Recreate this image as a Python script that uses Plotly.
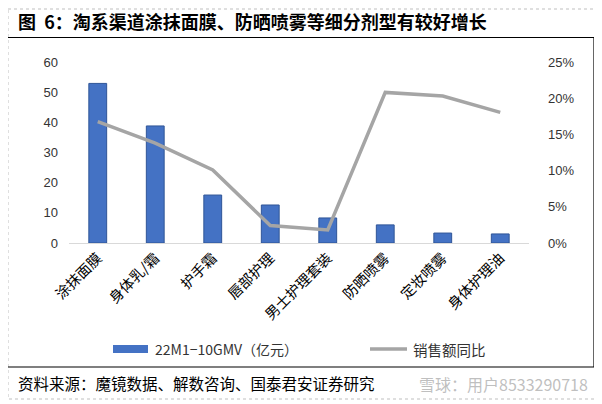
import plotly.graph_objects as go

categories = ["涂抹面膜", "身体乳/霜", "护手霜", "唇部护理", "男士护理套装", "防晒喷雾", "定妆喷雾", "身体护理油"]
gmv = [52.9, 38.8, 15.9, 12.6, 8.3, 6.0, 3.3, 3.0]
yoy = [0.1675, 0.138, 0.101, 0.024, 0.018, 0.208, 0.203, 0.1805]
left_ticks = [0, 10, 20, 30, 40, 50, 60]
right_ticks = [0, 0.05, 0.10, 0.15, 0.20, 0.25]
right_labels = ["0%", "5%", "10%", "15%", "20%", "25%"]

# page body has an 8px margin; figure is sized to fill the rest of the window
OFF = 8
W, H = 602 - OFF, 404 - OFF
PLOT_L, PLOT_R, PLOT_T, PLOT_B = 69, 529, 62, 243  # in window pixels
L = PLOT_L - OFF
R = W - (PLOT_R - OFF)
T = PLOT_T - OFF
B = H - (PLOT_B - OFF)
PW, PH = W - L - R, H - T - B

def X(px):
    return (px - OFF - L) / PW

def Y(py):
    return (H - B - (py - OFF)) / PH

CJK = "Noto Sans CJK SC"
NUM = "Liberation Sans Narrow, Liberation Sans, Arial"

fig = go.Figure()
fig.add_trace(go.Bar(
    x=categories, y=gmv, name="22M1-10GMV（亿元）",
    marker=dict(color="#4472C4", line=dict(color="#2F5597", width=1)),
    showlegend=False,
))
fig.add_trace(go.Scatter(
    x=categories, y=yoy, name="销售额同比", yaxis="y2", mode="lines",
    line=dict(color="#A5A5A5", width=3.5), showlegend=False,
))

shapes = []
# outer dashed frame
shapes.append(dict(type="rect", xref="paper", yref="paper",
                   x0=X(8), x1=X(595), y0=Y(9), y1=Y(399),
                   line=dict(color="#BFBFBF", width=1, dash="dot")))
# black box lines
for (x0, y0, x1, y1) in [(8, 37.5, 594, 37.5), (594, 37.5, 594, 367), (8, 367, 594, 367)]:
    shapes.append(dict(type="line", xref="paper", yref="paper",
                       x0=X(x0), x1=X(x1), y0=Y(y0), y1=Y(y1),
                       line=dict(color="#000000", width=1.2)))
# legend markers
shapes.append(dict(type="rect", xref="paper", yref="paper",
                   x0=X(113), x1=X(148), y0=Y(345), y1=Y(353),
                   fillcolor="#4472C4", line=dict(color="#4472C4", width=0)))
shapes.append(dict(type="line", xref="paper", yref="paper",
                   x0=X(370), x1=X(407), y0=Y(349), y1=Y(349),
                   line=dict(color="#A5A5A5", width=3.5)))

annotations = [
    dict(text="<b>图  6：淘系渠道涂抹面膜、防晒喷雾等细分剂型有较好增长</b>",
         xref="paper", yref="paper", x=X(16), y=Y(21), xanchor="left", yanchor="middle",
         showarrow=False, font=dict(family=CJK, size=18, color="#000000")),
    dict(text="22M1−10GMV（亿元）", xref="paper", yref="paper", x=X(153), y=Y(349),
         xanchor="left", yanchor="middle", showarrow=False,
         font=dict(family=CJK, size=14, color="#333333")),
    dict(text="销售额同比", xref="paper", yref="paper", x=X(411), y=Y(349),
         xanchor="left", yanchor="middle", showarrow=False,
         font=dict(family=CJK, size=14.5, color="#333333")),
    dict(text="资料来源：魔镜数据、解数咨询、国泰君安证券研究", xref="paper", yref="paper",
         x=X(16), y=Y(383), xanchor="left", yanchor="middle", showarrow=False,
         font=dict(family=CJK, size=15.5, color="#000000")),
    dict(text="雪球：用户8533290718", xref="paper", yref="paper",
         x=X(590), y=Y(384), xanchor="right", yanchor="middle", showarrow=False,
         font=dict(family=CJK, size=16, color="rgba(170,170,170,0.75)")),
]

fig.update_layout(
    width=W, height=H,
    margin=dict(l=L, r=R, t=T, b=B, autoexpand=False),
    paper_bgcolor="white", plot_bgcolor="white",
    bargap=0.69,
    shapes=shapes, annotations=annotations,
    font=dict(family=CJK, color="#333333"),
    xaxis=dict(
        type="category", tickangle=-45, showgrid=False, zeroline=False,
        showline=True, linecolor="#D9D9D9", linewidth=1, ticks="",
        tickfont=dict(family=CJK, size=14.5, color="#000000"),
    ),
    yaxis=dict(
        range=[0, 60], tickvals=left_ticks, showgrid=False, zeroline=False,
        showline=False, ticks="", ticklabelstandoff=10,
        tickfont=dict(family=NUM, size=13, color="#333333"),
    ),
    yaxis2=dict(
        overlaying="y", side="right", range=[0, 0.25], tickvals=right_ticks,
        ticktext=right_labels, showgrid=False, zeroline=False, showline=False,
        ticks="", ticklabelstandoff=18,
        tickfont=dict(family=NUM, size=13, color="#333333"),
    ),
)

fig.write_html("out.html")
